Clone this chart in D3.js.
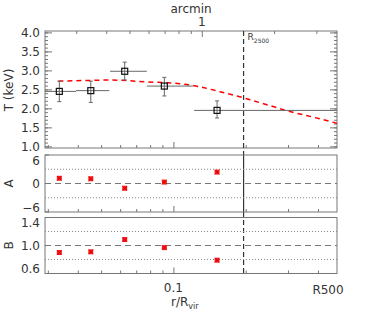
<!DOCTYPE html>
<html>
<head>
<meta charset="utf-8">
<script src="https://cdn.jsdelivr.net/npm/d3@7"></script>
<style>
  body { margin: 0; background: #fff; }
  text { font-family: "DejaVu Sans", sans-serif; fill: #333; }
</style>
</head>
<body>
<div id="chart"></div>
<script>
// temperature bins (r/Rvir)
const rBin = [0.0335, 0.0453, 0.0627, 0.0917, 0.152];
const rLo = [0.028, 0.0393, 0.0545, 0.0775, 0.122];
const rHi = [0.0393, 0.0541, 0.0775, 0.1208, 0.5];
const tVal = [2.46, 2.48, 2.99, 2.60, 1.96];
const tLo = [2.19, 2.17, 2.76, 2.34, 1.76];
const tHi = [2.73, 2.73, 3.23, 2.83, 2.21];

// model curve
const modelR = [0.0332, 0.045, 0.0545, 0.0775, 0.1066, 0.129, 0.1565, 0.196, 0.245, 0.306, 0.383, 0.48];
const modelT = [2.73, 2.75, 2.76, 2.71, 2.66, 2.58, 2.45, 2.29, 2.11, 1.93, 1.78, 1.62];

// residual panels
const aVal = [1.1, 1.0, -1.0, 0.3, 2.4];
const bVal = [0.90, 0.91, 1.085, 0.97, 0.79];

const r2500 = 0.196;
const arcminPerR = 1 / 0.1313;

const rTicks = [0.03, 0.04, 0.05, 0.06, 0.07, 0.08, 0.09, 0.1, 0.2, 0.3, 0.4];
const arcTicks = [0.3, 0.4, 0.5, 0.6, 0.7, 0.8, 0.9, 1, 2, 3];
const tMajor = [1.0, 1.5, 2.0, 2.5, 3.0, 3.5, 4.0];
const aTicks = [-6, 0, 6];
const bTicks = [0.6, 1.0, 1.4];

const W = 374, H = 311;
const axisCol = "#777";
const svg = d3.select("#chart").append("svg").attr("width", W).attr("height", H);

const x = d3.scaleLog().domain([0.0292, 0.48]).range([45, 337]);
const xArc = d3.scaleLog().domain([0.0292 * arcminPerR, 0.48 * arcminPerR]).range([45, 337]);

const yT = d3.scaleLinear().domain([0.97, 4.05]).range([148, 31]);
const yA = d3.scaleLinear().domain([-6, 6]).range([212, 155]);
const yB = d3.scaleLinear().domain([0.6, 1.4]).range([273.5, 217.5]);

svg.append("defs").append("clipPath").attr("id", "clipT")
  .append("rect").attr("x", 45).attr("y", 31).attr("width", 292).attr("height", 117);

function frame(y) {
  const [y0, y1] = [y.range()[1], y.range()[0]];
  svg.append("rect").attr("x", 45).attr("y", y0).attr("width", 292).attr("height", y1 - y0)
    .attr("fill", "none").attr("stroke", axisCol).attr("stroke-width", 1);
  // r ticks bottom
  const bot = svg.append("g").attr("transform", `translate(0,${y1})`)
    .call(d3.axisBottom(x).tickValues(rTicks).tickSize(-3).tickFormat(""));
  bot.select(".domain").remove();
  bot.selectAll("line").attr("stroke", axisCol)
    .attr("y2", d => d === 0.1 ? -6 : -3);
}

// top panel
frame(yT);
const topAx = svg.append("g").attr("transform", "translate(0,31)")
  .call(d3.axisTop(xArc).tickValues(arcTicks).tickSize(-3).tickFormat(""));
topAx.select(".domain").remove();
topAx.selectAll("line").attr("stroke", axisCol).attr("y2", d => d === 1 ? 6 : 3);
svg.append("text").attr("x", xArc(1)).attr("y", 26).attr("text-anchor", "middle")
  .attr("font-size", 12).text("1");
svg.append("text").attr("x", 191).attr("y", 13).attr("text-anchor", "middle")
  .attr("font-size", 12).text("arcmin");

// T axis left + right
const tMinor = d3.range(10, 41).map(d => d / 10);
[["left", 45, 1], ["right", 337, -1]].forEach(([side, xp, dir]) => {
  const g = svg.append("g");
  g.selectAll("line.mn").data(tMinor).join("line")
    .attr("x1", xp).attr("x2", xp + dir * 3)
    .attr("y1", d => yT(d)).attr("y2", d => yT(d)).attr("stroke", axisCol);
  g.selectAll("line.mj").data(tMajor).join("line")
    .attr("x1", xp).attr("x2", xp + dir * 7)
    .attr("y1", d => yT(d)).attr("y2", d => yT(d)).attr("stroke", axisCol);
});
svg.selectAll("text.tl").data(tMajor).join("text")
  .attr("x", 40).attr("y", d => yT(d)).attr("dy", "0.36em")
  .attr("text-anchor", "end").attr("font-size", 12).text(d3.format(".1f"));
svg.append("text").attr("transform", "translate(13,90) rotate(-90)")
  .attr("text-anchor", "middle").attr("font-size", 12).text("T (keV)");

// R2500 line
svg.append("line").attr("x1", x(r2500)).attr("x2", x(r2500)).attr("y1", 31).attr("y2", 155)
  .attr("stroke", "#333").attr("stroke-width", 1.2).attr("stroke-dasharray", "5,3");
svg.append("line").attr("x1", x(r2500)).attr("x2", x(r2500)).attr("y1", 155).attr("y2", 212)
  .attr("stroke", "#333").attr("stroke-width", 1.2);
svg.append("line").attr("x1", x(r2500)).attr("x2", x(r2500)).attr("y1", 212).attr("y2", 273.5)
  .attr("stroke", "#333").attr("stroke-width", 1.2).attr("stroke-dasharray", "5,3");
const rl = svg.append("text").attr("x", x(r2500) + 4).attr("y", 40).attr("font-size", 9);
rl.append("tspan").text("R");
rl.append("tspan").attr("font-size", 6).attr("dy", 3).text("2500");

// model curve
const modelPts = modelR.map((r, i) => [r, modelT[i]]);
svg.append("path").datum(modelPts)
  .attr("clip-path", "url(#clipT)")
  .attr("fill", "none").attr("stroke", "#f00").attr("stroke-width", 1.5)
  .attr("stroke-dasharray", "5,4")
  .attr("d", d3.line().x(d => x(d[0])).y(d => yT(d[1])).curve(d3.curveMonotoneX));

// data with error bars
const pts = rBin.map((r, i) => ({ r, t: tVal[i], lo: tLo[i], hi: tHi[i], rl: rLo[i], rh: rHi[i] }));
const eg = svg.append("g").attr("clip-path", "url(#clipT)");
eg.selectAll("line.h").data(pts).join("line")
  .attr("x1", d => x(d.rl)).attr("x2", d => x(d.rh))
  .attr("y1", d => yT(d.t)).attr("y2", d => yT(d.t)).attr("stroke", "#666");
eg.selectAll("line.v").data(pts).join("line")
  .attr("x1", d => x(d.r)).attr("x2", d => x(d.r))
  .attr("y1", d => yT(d.lo)).attr("y2", d => yT(d.hi)).attr("stroke", "#666");
["lo", "hi"].forEach(k => {
  eg.selectAll("line.c" + k).data(pts).join("line")
    .attr("x1", d => x(d.r) - 2).attr("x2", d => x(d.r) + 2)
    .attr("y1", d => yT(d[k])).attr("y2", d => yT(d[k])).attr("stroke", "#666");
});
eg.selectAll("rect.pt").data(pts).join("rect")
  .attr("x", d => x(d.r) - 3).attr("y", d => yT(d.t) - 3)
  .attr("width", 6).attr("height", 6)
  .attr("fill", "none").attr("stroke", "#111").attr("stroke-width", 1.2);

// residual panels
function resid(y, vals, dotted, dashed, ticks, labels, name) {
  frame(y);
  svg.append("g").selectAll("line").data(dotted).join("line")
    .attr("x1", 45).attr("x2", 337).attr("y1", d => y(d)).attr("y2", d => y(d))
    .attr("stroke", "#888").attr("stroke-dasharray", "1,2");
  svg.append("line").attr("x1", 45).attr("x2", 337).attr("y1", y(dashed)).attr("y2", y(dashed))
    .attr("stroke", "#777").attr("stroke-dasharray", "6,4");
  svg.append("g").selectAll("line").data(ticks).join("line")
    .attr("x1", 45).attr("x2", 49).attr("y1", d => y(d)).attr("y2", d => y(d)).attr("stroke", axisCol);
  // end labels sit slightly inside the box
  const shift = [-4.5, 0, 5.5];
  svg.append("g").selectAll("text").data(ticks).join("text")
    .attr("x", 40).attr("y", (d, i) => y(d) + shift[i]).attr("dy", "0.36em")
    .attr("text-anchor", "end").attr("font-size", 12).text((d, i) => labels[i]);
  const ym = (y.range()[0] + y.range()[1]) / 2;
  svg.append("text").attr("transform", `translate(13,${ym}) rotate(-90)`)
    .attr("text-anchor", "middle").attr("font-size", 12).text(name);
  const g = svg.append("g");
  vals.forEach((v, i) => {
    g.append("rect").attr("x", x(rBin[i]) - 2.5).attr("y", y(v) - 2.5)
      .attr("width", 5).attr("height", 5).attr("fill", "#ff1a1a");
    g.append("path").attr("transform", `translate(${x(rBin[i])},${y(v)})`)
      .attr("d", d3.symbol(d3.symbolTimes, 14)()).attr("stroke", "#c00").attr("stroke-width", 0.8);
  });
}
resid(yA, aVal, [-3, 3], 0, aTicks, ["\u22126", "0", "6"], "A");
resid(yB, bVal, [0.8, 1.2], 1.0, bTicks, ["0.6", "1.0", "1.4"], "B");

// bottom labels
svg.append("text").attr("x", x(0.1)).attr("y", 292).attr("text-anchor", "middle")
  .attr("font-size", 12).text("0.1");
svg.append("text").attr("x", 328).attr("y", 294).attr("text-anchor", "middle")
  .attr("font-size", 12).text("R500");
const xl = svg.append("text").attr("x", 171).attr("y", 306).attr("font-size", 12);
xl.append("tspan").text("r/R");
xl.append("tspan").attr("font-size", 8).attr("dy", 3).text("vir");
</script>
</body>
</html>
